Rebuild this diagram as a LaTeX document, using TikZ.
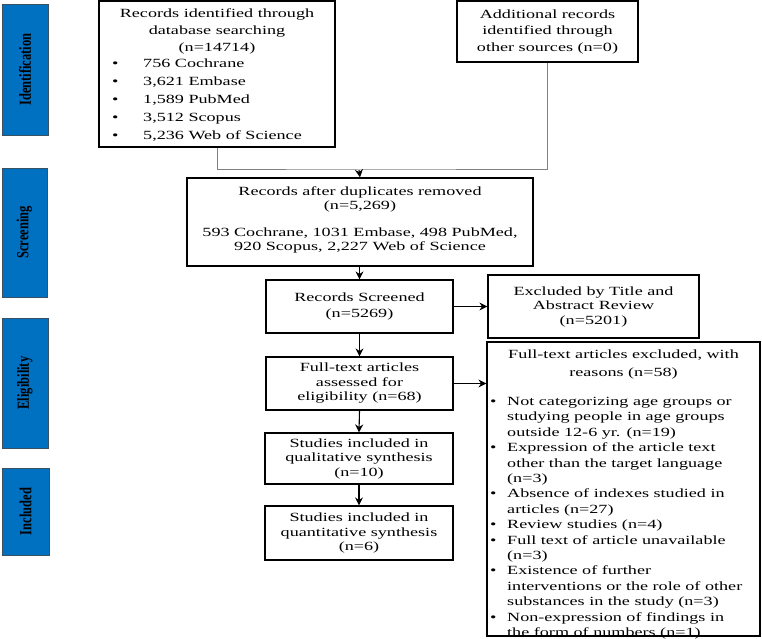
\documentclass[tikz,border=0pt]{standalone}
\usepackage{fontspec}
\setmainfont{Liberation Serif}[FakeStretch=1.45]
\newfontfamily\sidefont{Liberation Serif}
\usetikzlibrary{arrows.meta}
\definecolor{sideblue}{RGB}{0,112,192}
\definecolor{sideedge}{RGB}{60,80,100}
\newcommand{\sidelbl}[1]{\scalebox{1}[1.35]{#1}}
\begin{document}
\begin{tikzpicture}[x=1pt,y=1pt,
  box/.style={draw=black,line width=1.2pt,inner sep=0pt},
  side/.style={draw=sideedge,fill=sideblue,line width=0.8pt,inner sep=0pt},
  sidetext/.style={rotate=90,font=\sidefont\bfseries\fontsize{12.5}{15}\selectfont,text=black,inner sep=0pt},
  txt/.style={align=center,inner sep=0pt,font=\fontsize{12.5}{14.5}\selectfont},
  arr/.style={line width=1.1pt,-{Stealth[length=8pt,width=8pt]}},
  merge/.style={draw=gray,line width=1pt}
]
\useasboundingbox (0,0) rectangle (762,638);
% side labels
\node[side,minimum width=46pt,minimum height=131pt] (sid) at (25,568.5) {};
\node[sidetext] (sidt) at (sid.center) {\sidelbl{Identification}};
\node[side,minimum width=45pt,minimum height=129pt] (ssc) at (24.5,405.5) {};
\node[sidetext] (ssct) at (ssc.center) {\sidelbl{Screening}};
\node[side,minimum width=46pt,minimum height=130pt] (sel) at (25,255) {};
\node[sidetext] (selt) at (sel.center) {\sidelbl{Eligibility}};
\node[side,minimum width=47pt,minimum height=87pt] (sin) at (25.5,126.5) {};
\node[sidetext] (sint) at (sin.center) {\sidelbl{Included}};
% box 1
\node[box,minimum width=236pt,minimum height=146pt] (b1) at (217,564) {};
\node[txt,font=\fontsize{12.5}{17}\selectfont,anchor=north] (b1h) at (217,629) {Records identified through\\database searching\\(n=14714)};
\node[txt,align=left,font=\fontsize{12.5}{18}\selectfont,anchor=north west] (b1l) at (112,579)
 {\makebox[31pt][l]{\textbullet}756 Cochrane\\
  \makebox[31pt][l]{\textbullet}3,621 Embase\\
  \makebox[31pt][l]{\textbullet}1,589 PubMed\\
  \makebox[31pt][l]{\textbullet}3,512 Scopus\\
  \makebox[31pt][l]{\textbullet}5,236 Web of Science};
% box 2
\node[box,minimum width=181pt,minimum height=61pt] (b2) at (547.5,606.5) {};
\node[txt,font=\fontsize{12.5}{16.5}\selectfont] (b2t) at (b2.center) {Additional records\\identified through\\other sources (n=0)};
% box 3
\node[box,minimum width=346pt,minimum height=88pt] (b3) at (360,416) {};
\node[txt,font=\fontsize{12.5}{14.5}\selectfont] (b3t) at (360,418) {Records after duplicates removed\\(n=5,269)\\[12pt]593 Cochrane, 1031 Embase, 498 PubMed,\\920 Scopus, 2,227 Web of Science};
% box 4
\node[box,minimum width=187pt,minimum height=53pt] (b4) at (359.5,331.5) {};
\node[txt,font=\fontsize{12.5}{16}\selectfont] (b4t) at (b4.center) {Records Screened\\(n=5269)};
% excluded 1
\node[box,minimum width=211pt,minimum height=63pt] (e1) at (593.5,331.5) {};
\node[txt] (e1t) at (e1.center) {Excluded by Title and\\Abstract Review\\(n=5201)};
% box 5
\node[box,minimum width=187pt,minimum height=53pt] (b5) at (359.5,254.5) {};
\node[txt] (b5t) at (b5.center) {Full-text articles\\assessed for\\eligibility (n=68)};
% excluded 2
\node[box,minimum width=273pt,minimum height=294pt] (e2) at (623.5,149) {};
\node[txt,font=\fontsize{12.5}{18}\selectfont,anchor=north] (e2h) at (623.5,288) {Full-text articles excluded, with\\reasons (n=58)};
\node[txt,align=left,font=\fontsize{12.5}{15.4}\selectfont,anchor=north west] (e2l) at (490,241)
 {\makebox[17pt][l]{\textbullet}Not categorizing age groups or\\
  \hspace*{17pt}studying people in age groups\\
  \hspace*{17pt}outside 12-6 yr. (n=19)\\
  \makebox[17pt][l]{\textbullet}Expression of the article text\\
  \hspace*{17pt}other than the target language\\
  \hspace*{17pt}(n=3)\\
  \makebox[17pt][l]{\textbullet}Absence of indexes studied in\\
  \hspace*{17pt}articles (n=27)\\
  \makebox[17pt][l]{\textbullet}Review studies (n=4)\\
  \makebox[17pt][l]{\textbullet}Full text of article unavailable\\
  \hspace*{17pt}(n=3)\\
  \makebox[17pt][l]{\textbullet}Existence of further\\
  \hspace*{17pt}interventions or the role of other\\
  \hspace*{17pt}substances in the study (n=3)\\
  \makebox[17pt][l]{\textbullet}Non-expression of findings in\\
  \hspace*{17pt}the form of numbers (n=1)};
% box 6
\node[box,minimum width=188pt,minimum height=51pt] (b6) at (359,179.5) {};
\node[txt] (b6t) at (b6.center) {Studies included in\\qualitative synthesis\\(n=10)};
% box 7
\node[box,minimum width=188pt,minimum height=54pt] (b7) at (359,105) {};
\node[txt] (b7t) at (b7.center) {Studies included in\\quantitative synthesis\\(n=6)};
% connectors
\coordinate (m) at (359,468);
\draw[merge] (b1.south) |- (m) -| (b2.south);
\draw[arr] (m) -- (b3.north);
\draw[arr] (b3.south -| b4.north) -- (b4.north);
\draw[arr] (b4.east) -- (e1.west);
\draw[arr] (b4.south) -- (b5.north);
\draw[arr] (b5.east) -- (b5.east -| e2.west);
\draw[arr] (b5.south) -- (b6.north);
\draw[arr] (b6.south) -- (b7.north);
\end{tikzpicture}
\end{document}
